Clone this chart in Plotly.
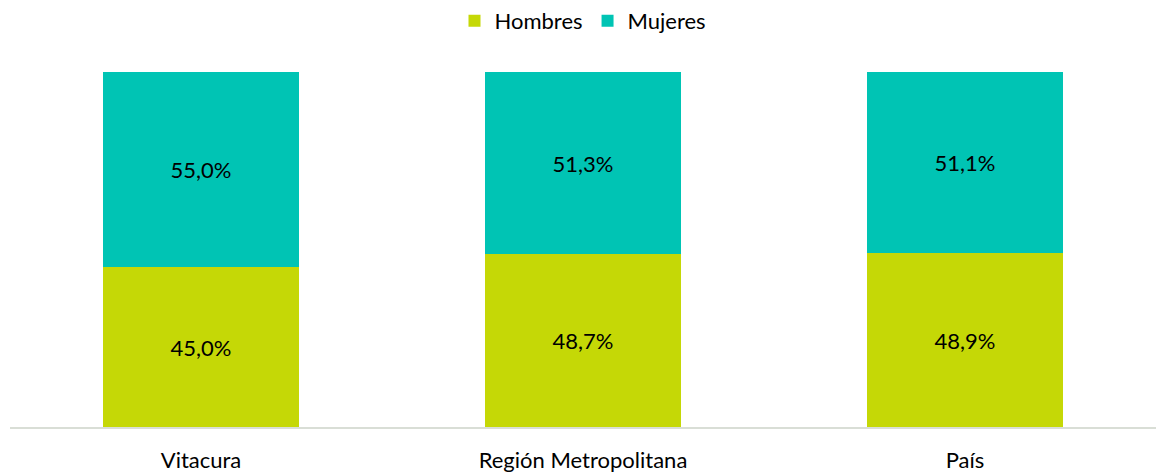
import plotly.graph_objects as go

# Data
categories = ["Vitacura", "Región Metropolitana", "País"]
hombres = [45.0, 48.7, 48.9]
mujeres = [55.0, 51.3, 51.1]

color_hombres = "#C5D806"
color_mujeres = "#00C4B4"

def fmt(v):
    return f"{v:.1f}".replace(".", ",") + "%"

fig = go.Figure()

fig.add_trace(go.Bar(
    x=categories, y=hombres, name="Hombres",
    marker=dict(color=color_hombres, line=dict(width=0)),
    text=[fmt(v) for v in hombres], textposition="inside",
    insidetextanchor="middle", textangle=0,
    textfont=dict(color="black", size=22),
))
fig.add_trace(go.Bar(
    x=categories, y=mujeres, name="Mujeres",
    marker=dict(color=color_mujeres, line=dict(width=0)),
    text=[fmt(v) for v in mujeres], textposition="inside",
    insidetextanchor="middle", textangle=0,
    textfont=dict(color="black", size=22),
))

fig.update_layout(
    barmode="stack",
    bargap=0.487,
    width=1156, height=474,
    margin=dict(l=10, r=0, t=71, b=47),
    paper_bgcolor="white",
    plot_bgcolor="white",
    font=dict(family="Lato, Open Sans, sans-serif", size=22, color="black"),
    uniformtext=dict(mode="show", minsize=22),
    legend=dict(
        orientation="h", x=0.5, xanchor="center", y=1.143, yanchor="middle",
        font=dict(size=22), traceorder="normal", itemwidth=30,
    ),
    showlegend=True,
)

fig.update_xaxes(
    showline=True, linecolor="#D9DED6", linewidth=2,
    ticks="", ticklabelstandoff=13, automargin=False,
    tickfont=dict(size=22),
)
fig.update_yaxes(
    range=[0, 100], visible=False, showgrid=False, automargin=False,
)

fig.write_html(
    "out.html",
    config={"displayModeBar": False},
    post_script="document.body.style.margin='0';",
)
